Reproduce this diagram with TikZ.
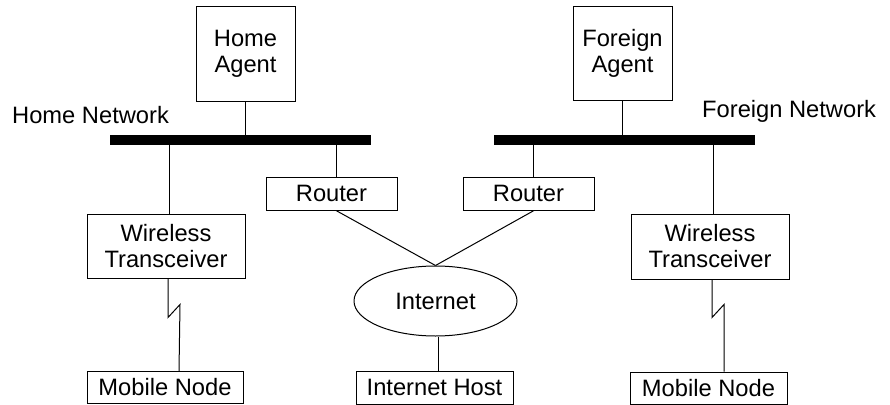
\documentclass[tikz,border=0pt]{standalone}
\usepackage{fontspec}
\setmainfont{Liberation Sans}
\usetikzlibrary{shapes.geometric}
\begin{document}
\begin{tikzpicture}[x=1pt,y=-1pt,
  every node/.style={font=\fontsize{23.7}{26}\selectfont, inner sep=0pt, align=center},
  box/.style={draw, line width=1pt, rectangle},
  bus/.style={fill=black, draw=none, rectangle, minimum height=10pt},
  link/.style={line width=1pt}]
\useasboundingbox (0,0) rectangle (890,404);
% buses
\node[bus, minimum width=261pt] (hbus) at (240.5,140) {};
\node[bus, minimum width=261pt] (fbus) at (624.5,140) {};
% agents
\node[box, minimum width=99pt, minimum height=94pt] (ha) at (245.5,54) {Home\\Agent};
\node[box, minimum width=99pt, minimum height=93pt] (fa) at (622.5,53.5) {Foreign\\Agent};
% network labels
\node[anchor=base west] (hnl) at (12,123) {Home Network};
\node[anchor=base west] (fnl) at (702,117) {Foreign Network};
% routers
\node[box, minimum width=131pt, minimum height=33pt] (rl) at (331.5,193.5) {Router};
\node[box, minimum width=131pt, minimum height=33pt] (rr) at (528.5,193.5) {Router};
% wireless transceivers
\node[box, minimum width=158pt, minimum height=64pt] (wl) at (166,246) {Wireless\\Transceiver};
\node[box, minimum width=158pt, minimum height=65pt] (wr) at (710,246.5) {Wireless\\Transceiver};
% internet
\node[draw, line width=1pt, ellipse, minimum width=163pt, minimum height=70pt] (inet) at (435.5,301) {Internet};
% bottom boxes
\node[box, minimum width=156pt, minimum height=32pt] (mnl) at (165,387.5) {Mobile Node};
\node[box, minimum width=157pt, minimum height=33pt] (ih) at (434.5,387.5) {Internet Host};
\node[box, minimum width=157pt, minimum height=32pt] (mnr) at (708.5,388) {Mobile Node};
% connectors
\draw[link] (ha.south) -- (ha.south |- hbus.north);
\draw[link] (fa.south) -- (fa.south |- fbus.north);
\draw[link] ([xshift=4.5pt]rl.north) -- ([xshift=4.5pt]rl.north |- hbus.south);
\draw[link] ([xshift=4.5pt]rr.north) -- ([xshift=4.5pt]rr.north |- fbus.south);
\draw[link] ([xshift=3pt]wl.north) -- ([xshift=3pt]wl.north |- hbus.south);
\draw[link] ([xshift=3pt]wr.north) -- ([xshift=3pt]wr.north |- fbus.south);
\draw[link] ([xshift=4.5pt]rl.south) -- (inet.north);
\draw[link] ([xshift=5.5pt]rr.south) -- (inet.north);
\draw[link] ([xshift=2.5pt]inet.south) -- ([xshift=2.5pt]inet.south |- ih.north);
\draw[link] ([xshift=2pt]wl.south) -- ++(0,39) -- ++(12,-13) -- ([xshift=14pt]mnl.north);
\draw[link] ([xshift=2pt]wr.south) -- ++(0,38) -- ++(12,-13) -- ([xshift=15.5pt]mnr.north);
\end{tikzpicture}
\end{document}
